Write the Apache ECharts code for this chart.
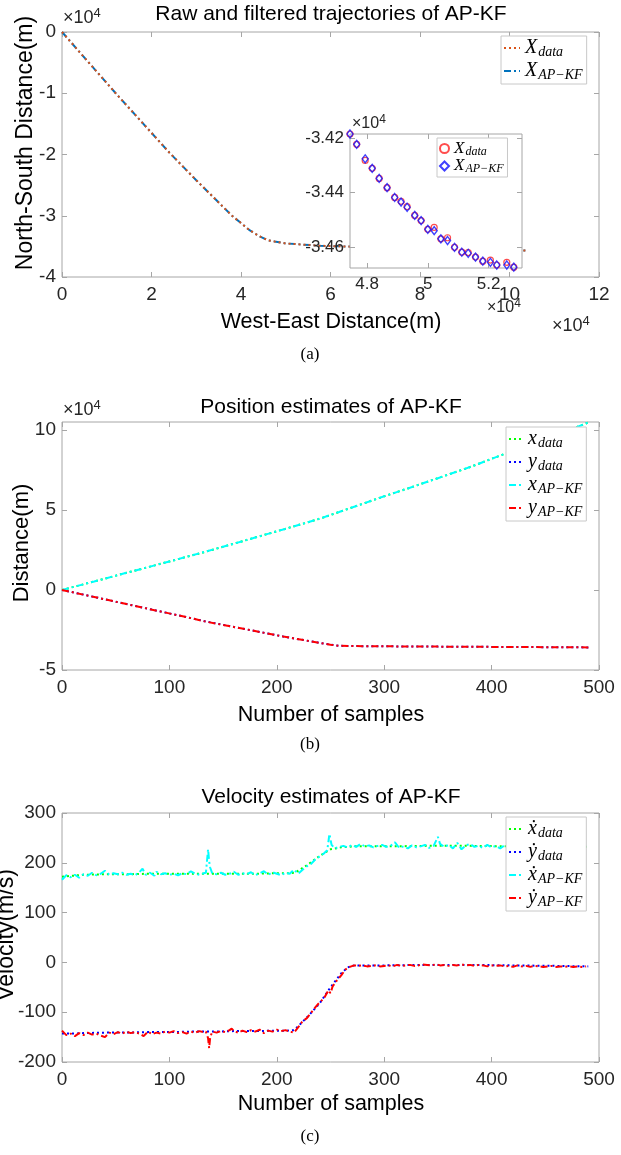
<!DOCTYPE html>
<html><head><meta charset="utf-8">
<script src="https://cdn.jsdelivr.net/npm/echarts@6/dist/echarts.min.js"></script>
<style>html,body{margin:0;padding:0;background:#fff}#c{width:621px;height:1155px}</style>
</head><body><div id="c"></div>
<script>
// ---------- Panel (a): trajectory (units of 1e4 m) ----------
const aTrajX   = [0, 1.2, 2.4, 3.0, 3.8, 4.0, 4.2, 4.4, 4.6, 4.75, 5.0, 5.3, 5.77, 6.48, 8.0, 9.0, 10.41];
const aTrajY   = [0, -1.0, -1.97, -2.42, -3.0, -3.12, -3.24, -3.33, -3.40, -3.42, -3.452, -3.467, -3.49, -3.505, -3.53, -3.55, -3.57];
const aKfX     = [0, 1.2, 2.4, 3.0, 3.8, 4.0, 4.2, 4.4, 4.6, 4.75, 5.0, 5.3, 5.77, 6.48, 8.0, 9.0, 10.41];
const aKfY     = [0, -1.0, -1.97, -2.42, -3.0, -3.12, -3.24, -3.33, -3.40, -3.42, -3.452, -3.467, -3.49, -3.505, -3.53, -3.55, -3.57];
const aXTicks  = [0, 2, 4, 6, 8, 10, 12];
const aYTicks  = [-4, -3, -2, -1, 0];

// inset (zoom of the trajectory)
const insetX     = [4.744, 4.766, 4.794, 4.817, 4.840, 4.866, 4.891, 4.912, 4.932, 4.957, 4.978, 5.000, 5.021, 5.043, 5.065, 5.088, 5.112, 5.133, 5.157, 5.181, 5.206, 5.227, 5.260, 5.283, 5.305];
const insetYData = [-3.4185, -3.4223, -3.4282, -3.4311, -3.4348, -3.4382, -3.4418, -3.4432, -3.4452, -3.4484, -3.4503, -3.4535, -3.4528, -3.4570, -3.4566, -3.4601, -3.4619, -3.4620, -3.4637, -3.4652, -3.4648, -3.4666, -3.4656, -3.4674, -3.4678];
const insetYKF   = [-3.4185, -3.4223, -3.4276, -3.4311, -3.4348, -3.4382, -3.4418, -3.4435, -3.4454, -3.4484, -3.4503, -3.4535, -3.4540, -3.4570, -3.4576, -3.4601, -3.4619, -3.4623, -3.4637, -3.4652, -3.4656, -3.4666, -3.4666, -3.4674, -3.4678];
const insetXTicks = [4.8, 5, 5.2];
const insetYTicks = [-3.46, -3.44, -3.42];

// ---------- Panel (b): position (units of 1e4 m) ----------
const bSamples = [0, 30, 60, 90, 120, 134, 160, 190, 206, 225, 241, 250, 258, 280, 300, 322, 350, 380, 413, 440, 470, 491];
const bXData   = [0, 0.53, 1.07, 1.60, 2.14, 2.39, 2.89, 3.47, 3.78, 4.15, 4.47, 4.68, 4.87, 5.38, 5.85, 6.34, 6.98, 7.68, 8.52, 9.18, 9.92, 10.49];
const bYData   = [0, -0.44, -0.88, -1.32, -1.76, -1.97, -2.31, -2.70, -2.91, -3.13, -3.32, -3.41, -3.49, -3.51, -3.52, -3.53, -3.54, -3.55, -3.56, -3.57, -3.58, -3.59];
const bXKF     = [0, 0.53, 1.07, 1.60, 2.14, 2.40, 2.89, 3.47, 3.78, 4.15, 4.47, 4.69, 4.87, 5.38, 5.85, 6.34, 6.98, 7.68, 8.52, 9.18, 9.92, 10.49];
const bYKF     = [0, -0.44, -0.88, -1.32, -1.76, -1.98, -2.31, -2.70, -2.91, -3.13, -3.32, -3.42, -3.49, -3.51, -3.52, -3.53, -3.54, -3.55, -3.56, -3.57, -3.58, -3.59];
const bXTicks  = [0, 100, 200, 300, 400, 500];
const bYTicks  = [-5, 0, 5, 10];

// ---------- Panel (c): velocity (m/s) ----------
const cSamples = [0, 10, 20, 40, 60, 80, 100, 120, 140, 160, 180, 200, 210, 216, 220, 230, 240, 250, 260, 266, 272, 280, 300, 340, 380, 420, 460, 490];
const cVxData  = [172, 174, 176, 177, 177, 178, 178, 178, 178, 178, 178, 179, 179, 180, 184, 198, 214, 227, 231, 232, 233, 233, 233, 234, 234, 233, 233, 232];
const cVyData  = [-143, -143, -142, -141, -141, -140, -140, -139, -139, -138, -138, -137, -137, -136, -128, -106, -82, -50, -22, -10, -6, -6, -6, -5, -5, -6, -7, -8];
const cVxKF = [[0,166],[4,175],[8,171],[12,176],[16,170],[20,177],[24,174],[28,180],[32,175],[36,178],[40,184],[44,176],[48,179],[52,177],[56,180],[60,176],[64,178],[68,175],[72,181],[75,188],[78,176],[82,180],[86,174],[88,182],[92,177],[96,179],[100,176],[104,178],[108,175],[112,179],[116,177],[120,183],[124,178],[128,176],[132,179],[134,180],[136,227],[137,203],[138,190],[140,178],[144,177],[148,180],[152,176],[156,178],[160,182],[164,176],[168,179],[172,177],[176,181],[180,175],[184,179],[188,183],[192,176],[196,181],[200,178],[204,175],[208,180],[212,178],[216,186],[220,178],[224,186],[228,193],[232,198],[236,207],[240,213],[244,219],[247,225],[249,258],[251,236],[254,229],[258,232],[262,234],[266,231],[270,236],[274,232],[278,238],[282,233],[286,235],[290,231],[294,234],[298,236],[302,232],[306,234],[310,241],[314,230],[318,233],[322,229],[326,235],[330,231],[334,233],[338,236],[342,230],[346,234],[350,252],[352,238],[356,232],[360,236],[364,229],[368,240],[372,227],[376,235],[380,238],[384,232],[388,234],[392,230],[396,236],[400,231],[404,234],[408,229],[412,235],[416,232],[420,236],[424,231],[428,234],[432,230],[436,233],[440,235],[444,231],[448,234],[452,232],[456,235],[460,230],[464,233],[468,234],[472,231],[476,234],[480,232],[484,233],[488,232]];
const cVyKF = [[0,-137],[4,-146],[8,-143],[12,-148],[16,-142],[20,-146],[24,-141],[28,-145],[32,-143],[36,-147],[40,-150],[44,-141],[48,-144],[52,-140],[56,-143],[60,-139],[64,-142],[68,-140],[72,-143],[76,-148],[80,-139],[84,-144],[88,-141],[92,-143],[96,-139],[100,-141],[104,-138],[108,-142],[112,-140],[116,-143],[120,-139],[124,-141],[128,-138],[132,-140],[134,-139],[136,-152],[137,-172],[138,-150],[140,-139],[144,-141],[148,-138],[152,-140],[156,-136],[158,-133],[160,-138],[164,-141],[168,-137],[172,-140],[176,-136],[180,-139],[184,-135],[188,-142],[192,-137],[196,-139],[200,-135],[204,-138],[208,-136],[212,-139],[216,-141],[220,-130],[224,-118],[228,-112],[232,-101],[236,-90],[240,-80],[244,-72],[248,-56],[250,-62],[252,-48],[256,-36],[260,-26],[264,-14],[268,-9],[272,-6],[276,-7],[280,-6],[284,-8],[288,-7],[292,-6],[296,-8],[300,-7],[304,-6],[308,-8],[312,-5],[316,-7],[320,-6],[324,-5],[328,-7],[332,-6],[336,-4],[340,-5],[344,-6],[348,-4],[352,-6],[356,-5],[360,-7],[364,-5],[368,-6],[372,-4],[376,-6],[380,-5],[384,-7],[388,-5],[392,-6],[396,-8],[400,-6],[404,-7],[408,-6],[412,-8],[416,-7],[420,-9],[424,-6],[428,-8],[432,-7],[436,-9],[440,-7],[444,-8],[448,-9],[452,-8],[456,-7],[460,-9],[464,-8],[468,-9],[472,-8],[476,-9],[480,-8],[484,-9],[488,-8]];
const cXTicks = [0, 100, 200, 300, 400, 500];
const cYTicks = [-200, -100, 0, 100, 200, 300];

// ---------- styling ----------
const SANS = "'Liberation Sans', Arial, Helvetica, sans-serif";
const SERIF = "'Liberation Serif', 'DejaVu Serif', serif";
const FRAME = '#a6a6a6';
const LABEL = '#262626';
const DOT = [2, 3];
const DASHDOT = [7, 3, 2, 3];

const zip = (a, b) => a.map((v, i) => [v, b[i]]);

const grids = [
  {left: 62, top: 32, width: 537, height: 245},      // (a)
  {left: 350, top: 134, width: 172, height: 134, z: 5, backgroundColor: '#fff'}, // inset
  {left: 62, top: 422, width: 537, height: 248},     // (b)
  {left: 62, top: 813, width: 537, height: 249}      // (c)
].map(g => Object.assign({show: true, borderColor: FRAME, borderWidth: 1, containLabel: false}, g));

const xAxes = [], yAxes = [];
function addAxes(gi, xr, xt, yr, yt, fs, z) {
  const common = {type: 'value', gridIndex: gi, splitLine: {show: false}, axisLine: {show: false, onZero: false}, z: z || 0};
  const tick = (vals) => ({show: true, inside: true, length: 5, lineStyle: {color: FRAME}, customValues: vals});
  xAxes.push(Object.assign({}, common, {position: 'bottom', min: xr[0], max: xr[1], axisTick: tick(xt),
    axisLabel: {customValues: xt, color: LABEL, fontSize: fs, fontFamily: SANS, margin: 8}}));
  xAxes.push(Object.assign({}, common, {position: 'top', min: xr[0], max: xr[1], axisTick: tick(xt), axisLabel: {show: false}}));
  yAxes.push(Object.assign({}, common, {position: 'left', min: yr[0], max: yr[1], axisTick: tick(yt),
    axisLabel: {customValues: yt, color: LABEL, fontSize: fs, fontFamily: SANS, margin: 6}}));
  yAxes.push(Object.assign({}, common, {position: 'right', min: yr[0], max: yr[1], axisTick: tick(yt), axisLabel: {show: false}}));
  return [xAxes.length - 2, yAxes.length - 2];
}
const [axA, ayA] = addAxes(0, [0, 12], aXTicks, [-4, 0], aYTicks, 19);
const [axI, ayI] = addAxes(1, [4.744, 5.31], insetXTicks, [-3.4677, -3.4185], insetYTicks, 17, 6);
const [axB, ayB] = addAxes(2, [0, 500], bXTicks, [-5, 10.49], bYTicks, 19);
const [axC, ayC] = addAxes(3, [0, 500], cXTicks, [-200, 300], cYTicks, 19);

function line(name, xi, yi, data, color, dash, z) {
  return {type: 'line', name, xAxisIndex: xi, yAxisIndex: yi, data, symbol: 'none', showSymbol: false,
    animation: false, z: z || 2, lineStyle: {color, width: 2, type: dash}, itemStyle: {color}};
}

const series = [
  line('Xkf', axA, ayA, zip(aKfX, aKfY), '#0072BD', DASHDOT, 2),
  line('Xdata', axA, ayA, zip(aTrajX, aTrajY), '#D95319', DOT, 3),
  {type: 'scatter', name: 'iXdata', xAxisIndex: axI, yAxisIndex: ayI, data: zip(insetX, insetYData), symbol: 'circle', symbolSize: 6,
   z: 7, animation: false, itemStyle: {color: 'rgba(255,255,255,0)', borderColor: '#ff2020', borderWidth: 1.2}},
  {type: 'scatter', name: 'iXkf', xAxisIndex: axI, yAxisIndex: ayI, data: zip(insetX, insetYKF), symbol: 'diamond', symbolSize: [6, 8],
   z: 8, animation: false, itemStyle: {color: 'rgba(255,255,255,0)', borderColor: '#1010ff', borderWidth: 1.4}},
  line('xdata', axB, ayB, zip(bSamples, bXData), '#00ff00', DOT),
  line('ydata', axB, ayB, zip(bSamples, bYData), '#0000ff', DOT),
  line('xkf', axB, ayB, zip(bSamples, bXKF), '#00ffff', DASHDOT),
  line('ykf', axB, ayB, zip(bSamples, bYKF), '#ff0000', DASHDOT),
  line('vxdata', axC, ayC, zip(cSamples, cVxData), '#00ff00', DOT),
  line('vydata', axC, ayC, zip(cSamples, cVyData), '#0000ff', DOT),
  line('vxkf', axC, ayC, cVxKF, '#00ffff', DASHDOT),
  line('vykf', axC, ayC, cVyKF, '#ff0000', DASHDOT)
];

const legendLabels = {
  Xdata: '{m|X}{s|data}', Xkf: '{m|X}{s|AP−KF}',
  iXdata: '{mi|X}{si|data}', iXkf: '{mi|X}{si|AP−KF}',
  xdata: '{m|x}{s|data}', ydata: '{m|y}{s|data}', xkf: '{m|x}{s|AP−KF}', ykf: '{m|y}{s|AP−KF}',
  vxdata: '{m|ẋ}{s|data}', vydata: '{m|ẏ}{s|data}', vxkf: '{m|ẋ}{s|AP−KF}', vykf: '{m|ẏ}{s|AP−KF}'
};
const rich = {
  m: {fontFamily: SERIF, fontStyle: 'italic', fontSize: 20, lineHeight: 20, color: '#000'},
  s: {fontFamily: SERIF, fontStyle: 'italic', fontSize: 14, padding: [8, 0, 0, 1], color: '#000'},
  mi: {fontFamily: SERIF, fontStyle: 'italic', fontSize: 17, lineHeight: 16, color: '#000'},
  si: {fontFamily: SERIF, fontStyle: 'italic', fontSize: 12, padding: [6, 0, 0, 1], color: '#000'}
};
function legend(data, left, top, gap, iw, ih, hideSymbol, z) {
  const l = {data, left, top, orient: 'vertical', itemGap: gap, itemWidth: iw, itemHeight: ih,
    padding: [2, 4, 2, 2], backgroundColor: '#fff', borderColor: '#c8c8c8', borderWidth: 1, borderRadius: 0,
    selectedMode: false, z: z || 4, formatter: n => legendLabels[n], textStyle: {rich}};
  if (hideSymbol) { l.itemStyle = {opacity: 0}; l.lineStyle = {width: 2}; }
  return l;
}
const legends = [
  legend(['Xdata', 'Xkf'], 501, 36, 2, 16, 14, true),
  legend(['iXdata', 'iXkf'], 437, 138, 0, 9, 9, false, 9),
  legend(['xdata', 'ydata', 'xkf', 'ykf'], 506, 427, 2, 14, 14, true),
  legend(['vxdata', 'vydata', 'vxkf', 'vykf'], 506, 817, 2, 14, 14, true)
];

function txt(x, y, text, size, opts) {
  return Object.assign({type: 'text', x, y, z: 20, style: {text, fill: '#000', font: size + 'px ' + SANS,
    align: 'center', verticalAlign: 'middle', textAlign: 'center', textVerticalAlign: 'middle'}}, opts || {});
}
function expo(x, y, size) {
  return {type: 'text', x, y, z: 20, style: {text: '×10{sup|4}', fill: LABEL, font: size + 'px ' + SANS,
    align: 'left', verticalAlign: 'middle', textAlign: 'left', textVerticalAlign: 'middle',
    rich: {sup: {fontSize: Math.round(size * 0.72), fontFamily: SANS, fill: LABEL, padding: [0, 0, Math.round(size * 0.55), 0]}}}};
}
function serif(x, y, text) {
  return {type: 'text', x, y, z: 20, style: {text, fill: '#000', font: '17px ' + SERIF,
    align: 'center', verticalAlign: 'middle', textAlign: 'center', textVerticalAlign: 'middle'}};
}
const graphics = [
  txt(331, 14, 'Raw and filtered trajectories of AP-KF', 21),
  expo(63, 18, 18),
  txt(26, 143, 'North-South Distance(m)', 23, {rotation: Math.PI / 2}),
  txt(331, 322, 'West-East Distance(m)', 21.5),
  expo(552, 326, 18),
  expo(352, 124, 16),
  expo(487, 308, 16),
  serif(310, 355, '(a)'),
  txt(331, 407, 'Position estimates of AP-KF', 21),
  expo(63, 410, 18),
  txt(22, 543, 'Distance(m)', 22, {rotation: Math.PI / 2}),
  txt(331, 715, 'Number of samples', 21.5),
  serif(310, 745, '(b)'),
  txt(331, 797, 'Velocity estimates of AP-KF', 21),
  txt(7, 935, 'Velocity(m/s)', 23, {rotation: Math.PI / 2}),
  txt(331, 1104, 'Number of samples', 21.5),
  serif(310, 1137, '(c)')
];

const chart = echarts.init(document.getElementById('c'), null, {renderer: 'canvas'});
chart.setOption({
  backgroundColor: '#fff',
  animation: false,
  grid: grids,
  xAxis: xAxes,
  yAxis: yAxes,
  legend: legends,
  series,
  graphic: graphics
});
</script></body></html>
